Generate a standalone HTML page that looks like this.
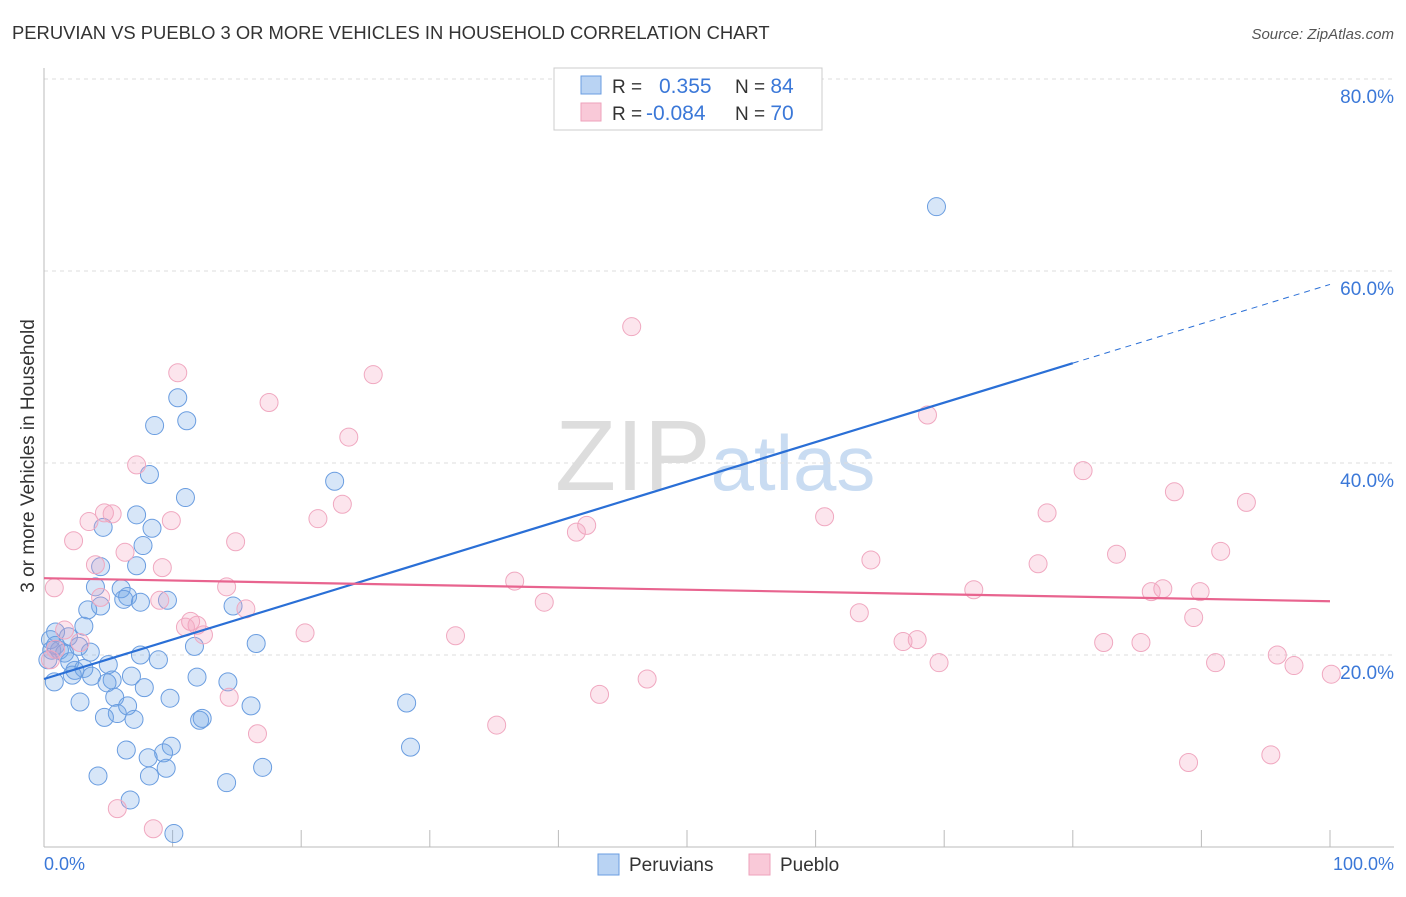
<!DOCTYPE html>
<html><head><meta charset="utf-8"><style>
body{margin:0;background:#fff;font-family:"Liberation Sans",sans-serif;}
svg text{font-family:"Liberation Sans",sans-serif;}
</style></head><body>
<svg id="chart" width="1406" height="892">
<text x="12" y="39" font-size="18.4" fill="#333">PERUVIAN VS PUEBLO 3 OR MORE VEHICLES IN HOUSEHOLD CORRELATION CHART</text>
<text x="1394" y="39" font-size="15" fill="#555" text-anchor="end" font-style="italic">Source: ZipAtlas.com</text>
<text x="555" y="490" font-size="100" fill="#ddd" font-family="Liberation Serif">ZIP<tspan fill="#c9dcf2" font-family="Liberation Sans" font-size="78">atlas</tspan></text>
<g id="grid"></g><g id="axes"></g><g id="pts"></g><g id="trend"></g>
<text transform="translate(34,456) rotate(-90)" font-size="19" fill="#333" text-anchor="middle">3 or more Vehicles in Household</text>
<text x="44" y="870" font-size="18" fill="#3b78d8">0.0%</text>
<text x="1394" y="870" font-size="18" fill="#3b78d8" text-anchor="end">100.0%</text>
<g>
<rect x="554" y="68" width="268" height="62" fill="#fff" stroke="#ccc"/>
<rect x="581" y="76" width="20" height="18" fill="#b9d3f3" stroke="#6a9de0"/>
<rect x="581" y="103" width="20" height="18" fill="#f9c9d8" stroke="#eea2bb"/>
<text x="612" y="93" font-size="19" fill="#333">R = <tspan x="659" font-size="21" fill="#3b78d8">0.355</tspan><tspan x="735" fill="#333">N = </tspan><tspan font-size="21" fill="#3b78d8">84</tspan></text>
<text x="612" y="120" font-size="19" fill="#333">R = <tspan x="646" font-size="21" fill="#3b78d8">-0.084</tspan><tspan x="735" fill="#333">N = </tspan><tspan font-size="21" fill="#3b78d8">70</tspan></text>
</g>
<g>
<rect x="598" y="854" width="21" height="21" fill="#b9d3f3" stroke="#6a9de0"/>
<text x="629" y="871" font-size="19" fill="#333">Peruvians</text>
<rect x="749" y="854" width="21" height="21" fill="#f9c9d8" stroke="#eea2bb"/>
<text x="780" y="871" font-size="19" fill="#333">Pueblo</text>
</g>
</svg>
<script>
const yTicks=[20,40,60,80];
const yTickLabels=["20.0%","40.0%","60.0%","80.0%"];
const blueX=[69.4,10.4,8.6,11.1,8.2,22.6,11.0,7.2,4.6,8.4,7.7,7.2,4.4,4.0,6.0,6.5,6.2,7.5,9.6,14.7,4.4,3.4,3.1,0.9,1.9,0.5,16.5,11.7,2.7,1.2,3.6,7.5,8.9,5.0,2.0,3.1,2.4,3.7,5.3,6.8,11.9,4.9,14.3,0.8,7.8,5.5,9.8,2.8,16.1,28.2,6.5,5.7,4.7,7.0,12.1,12.3,9.9,6.4,9.3,8.1,28.5,17.0,9.5,8.2,4.2,14.2,6.7,10.1,0.6,0.3,0.9,1.6,2.2];
const blueY=[66.7,46.8,43.9,44.4,38.8,38.1,36.4,34.6,33.3,33.2,31.4,29.3,29.2,27.1,26.9,26.1,25.8,25.5,25.7,25.1,25.1,24.7,23.0,22.4,21.9,21.6,21.2,20.9,20.9,20.5,20.3,20.0,19.5,19.0,19.3,18.6,18.4,17.8,17.4,17.8,17.7,17.1,17.2,17.2,16.6,15.6,15.5,15.1,14.7,15.0,14.7,13.9,13.5,13.3,13.2,13.4,10.5,10.1,9.8,9.3,10.4,8.3,8.2,7.4,7.4,6.7,4.9,1.4,20.5,19.5,21.0,20.2,17.9];
const pinkX=[45.7,10.4,25.6,17.5,68.7,23.7,7.2,80.8,87.9,93.5,23.2,4.7,5.3,78.0,60.7,21.3,3.5,9.9,42.2,41.4,2.3,14.9,6.3,91.5,83.4,64.3,77.3,4.0,9.2,36.6,0.8,14.2,72.3,87.0,86.1,89.9,4.4,9.0,38.9,15.7,63.4,89.4,11.4,11.9,11.0,1.6,12.4,20.3,32.0,67.9,66.8,82.4,85.3,2.8,0.9,95.9,69.6,91.1,97.2,100.1,46.9,43.2,14.4,35.2,16.6,89.0,95.4,5.7,8.5,0.5];
const pinkY=[54.2,49.4,49.2,46.3,45.0,42.7,39.8,39.2,37.0,35.9,35.7,34.8,34.7,34.8,34.4,34.2,33.9,34.0,33.5,32.8,31.9,31.8,30.7,30.8,30.5,29.9,29.5,29.4,29.1,27.7,27.0,27.1,26.8,26.9,26.6,26.6,26.0,25.7,25.5,24.8,24.4,23.9,23.5,23.1,22.9,22.6,22.1,22.3,22.0,21.6,21.4,21.3,21.3,21.3,20.6,20.0,19.2,19.2,18.9,18.0,17.5,15.9,15.6,12.7,11.8,8.8,9.6,4.0,1.9,19.5];
const blueTrend=[17.5,50.4,58.6]; // at x=0, 80, 100
const pinkTrend=[28.0,25.6];      // at x=0, 100
const NS="http://www.w3.org/2000/svg";
const X=v=>44+v*12.86, Y=v=>847-v*9.6;
function mk(p,t,a){const e=document.createElementNS(NS,t);for(const k in a)e.setAttribute(k,a[k]);document.getElementById(p).appendChild(e);return e;}
yTicks.forEach((t,i)=>{
 const g=mk('grid','line',{x1:44,x2:1394,y1:Y(t),y2:Y(t),stroke:'#ddd','stroke-dasharray':'4,4'});
 
 
 const l=mk('grid','text',{x:1394,y:Y(t)+24,'font-size':19,fill:'#3b78d8','text-anchor':'end'});
 l.textContent=yTickLabels[i];
 
 
});
mk('axes','line',{x1:44,x2:44,y1:68,y2:847,stroke:'#bbb'});
mk('axes','line',{x1:44,x2:1394,y1:847,y2:847,stroke:'#bbb'});
for(let i=1;i<=10;i++){const t=mk('axes','line',{x1:X(i*10),x2:X(i*10),y1:830,y2:847,stroke:'#bbb'});
 
 }
blueX.forEach((v,i)=>{const c=mk('pts','circle',{cx:X(v),cy:Y(blueY[i]),r:9,fill:'rgba(110,165,230,0.28)',stroke:'#6a9de0','stroke-width':1});
 
 });
pinkX.forEach((v,i)=>{const c=mk('pts','circle',{cx:X(v),cy:Y(pinkY[i]),r:9,fill:'rgba(245,160,190,0.28)',stroke:'#f0a8c0','stroke-width':1});
 
 });
const b1=mk('trend','line',{x1:X(0),y1:Y(blueTrend[0]),x2:X(80),y2:Y(blueTrend[1]),stroke:'#2a6fd6','stroke-width':2.2});


const b2=mk('trend','line',{x1:X(80),y1:Y(blueTrend[1]),x2:X(100),y2:Y(blueTrend[2]),stroke:'#2a6fd6','stroke-width':1,'stroke-dasharray':'6,5'});


const p1=mk('trend','line',{x1:X(0),y1:Y(pinkTrend[0]),x2:X(100),y2:Y(pinkTrend[1]),stroke:'#e8648f','stroke-width':2.2});


</script>
</body></html>
